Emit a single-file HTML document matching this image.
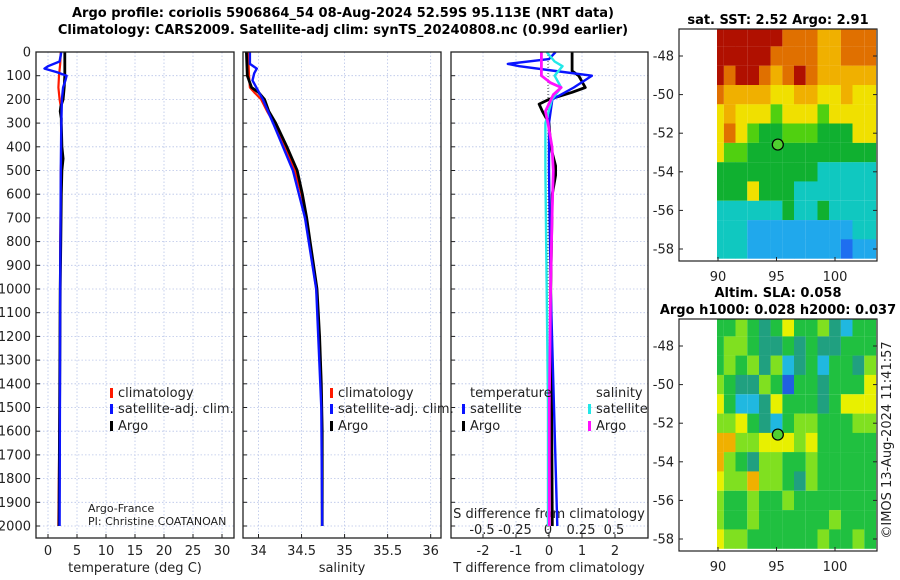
<!DOCTYPE html>
<html><head><meta charset="utf-8"><style>
html,body{margin:0;padding:0;background:#fff;}
svg{display:block;font-family:"DejaVu Sans","Liberation Sans",sans-serif;}
</style></head><body>
<svg id="fig" width="900" height="580" viewBox="0 0 900 580">
<text x="343" y="17" text-anchor="middle" font-size="13" font-weight="bold">Argo profile: coriolis 5906864_54 08-Aug-2024 52.59S 95.113E (NRT data)</text>
<text x="343" y="34" text-anchor="middle" font-size="13" font-weight="bold">Climatology: CARS2009. Satellite-adj clim: synTS_20240808.nc (0.99d earlier)</text>
<text x="778" y="24" text-anchor="middle" font-size="13" font-weight="bold">sat. SST: 2.52 Argo: 2.91</text>
<text x="778" y="297" text-anchor="middle" font-size="13" font-weight="bold">Altim. SLA: 0.058</text>
<text x="778" y="314" text-anchor="middle" font-size="13" font-weight="bold">Argo h1000: 0.028 h2000: 0.037</text>
<text transform="translate(891,440) rotate(-90)" text-anchor="middle" font-size="13" fill="#222">©IMOS 13-Aug-2024 11:41:57</text>
<g id="g"></g>
</svg>
<script>
// ---- profile data (depth in m) ----
const tempDepth = [0,50,100,150,200,230,250,280,300,400,450,500,600,800,1000,1500,2000];
const tempArgo  = [2.9,2.9,2.9,2.8,2.6,2.2,2.1,2.3,2.3,2.4,2.6,2.4,2.3,2.2,2.1,2.0,1.9];
const tempClim  = [2.2,2.1,1.9,1.8,2.0,2.2,2.3,2.3,2.3,2.3,2.3,2.2,2.2,2.1,2.1,2.0,1.8];
const tempSatD  = [0,40,60,70,85,100,120,150,200,300,500,1000,2000];
const tempSat   = [2.3,2.0,0.0,-0.6,1.5,3.2,3.0,2.6,2.4,2.3,2.2,2.1,2.0];

const salDepth = [0,100,150,170,200,250,300,400,500,600,700,800,900,1000,1200,1400,1600,2000];
const salArgo  = [33.86,33.87,33.92,34.0,34.07,34.12,34.2,34.33,34.45,34.51,34.56,34.6,34.64,34.68,34.71,34.73,34.74,34.74];
const salClim  = [33.88,33.89,33.9,33.95,34.03,34.1,34.18,34.31,34.42,34.5,34.55,34.59,34.63,34.67,34.71,34.73,34.74,34.74];
const salSatD  = [0,50,70,90,120,200,300,500,700,1000,1500,2000];
const salSat   = [33.9,33.9,33.98,33.95,33.93,34.05,34.17,34.4,34.54,34.67,34.73,34.74];

const tdSatD = [0,30,50,60,80,100,150,200,300,500,1000,1500,2000];
const tdSat  = [0.2,0.0,-1.25,-0.9,0.2,1.3,0.75,0.1,0.0,0.0,0.05,0.15,0.25];
const tdArgD = [0,80,100,150,170,200,220,250,300,400,480,520,600,1000,1500,2000];
const tdArg  = [0.7,0.7,0.9,1.1,0.7,0.0,-0.3,-0.2,0.0,0.05,0.2,0.2,0.1,0.05,0.08,0.1];
const sdSatD = [0,40,60,100,150,200,300,500,1000,1500,2000];
const sdSat  = [-0.01,0.05,0.11,0.05,0.1,0.03,-0.02,-0.02,-0.01,0.0,0.0];
const sdArgD = [0,100,130,150,180,250,300,400,500,700,1000,1500,2000];
const sdArg  = [-0.05,-0.05,0.02,0.1,0.04,-0.02,0.0,0.03,0.04,0.03,0.02,0.01,0.01];

const depthTicks = [0,100,200,300,400,500,600,700,800,900,1000,1100,1200,1300,1400,1500,1600,1700,1800,1900,2000];
const tempTicks = [0,5,10,15,20,25,30];
const salTicks = [34,34.5,35,35.5,36];
const salTickLabels = ["34","34.5","35","35.5","36"];
const tdTicks = [-2,-1,0,1,2];
const sdTicks = [-0.5,-0.25,0,0.25,0.5];
const sdTickLabels = ["-0.5","-0.25","0","0.25","0.5"];

// ---- map data ----
const sstLon = [90,91,92,93,94,95,96,97,98,99,100,101,102,103];
const sstLat = [-47,-48,-49,-50,-51,-52,-53,-54,-55,-56,-57,-58];
const sstGrid = [
[9,9,9,9,9,9,8,8,8,7,7,8,8,8],
[9,9,9,9,9,8,8,8,8,7,7,8,8,8],
[9,8,9,9,8,7,8,9,8,7,7,7,7,7],
[8,7,7,7,7,6,6,7,7,6,6,7,6,6],
[6,7,6,6,6,5,6,6,6,5,6,6,6,6],
[6,8,6,5,4,4,5,5,5,4,4,4,6,6],
[6,5,5,4,4,4,4,4,4,4,4,4,4,4],
[4,4,4,4,4,4,4,4,4,3,3,3,3,3],
[4,4,4,6,4,4,4,3,3,3,3,3,3,3],
[3,3,3,3,3,3,4,3,3,4,3,3,3,3],
[3,3,3,2,2,2,2,2,2,2,2,2,3,3],
[3,3,3,2,2,2,2,2,2,2,2,1,2,2]];
const slaGrid = [
[3,3,4,3,2,3,5,3,3,4,2,1,3,3],
[3,4,4,3,2,2,3,2,3,2,2,3,3,3],
[3,4,3,4,2,4,1,2,3,1,3,3,2,4],
[4,3,2,2,4,3,0,3,3,2,3,3,3,5],
[5,3,1,1,2,5,3,3,3,2,3,5,5,5],
[4,4,5,3,2,1,3,4,4,3,3,3,4,4],
[6,6,4,4,5,5,5,4,5,3,3,3,3,3],
[6,4,3,2,4,4,3,3,4,3,3,3,3,3],
[5,4,4,6,4,4,3,2,4,3,3,3,3,3],
[4,3,3,4,3,3,4,3,3,3,3,3,3,3],
[4,3,3,4,3,3,3,3,3,3,4,3,3,3],
[5,4,4,3,3,3,3,3,3,4,3,3,4,3]];
const floatLon = 95.113, floatLat = -52.59;
const mapLonTicks = [90,95,100];
const mapLatTicks = [-48,-50,-52,-54,-56,-58];

const NS = "http://www.w3.org/2000/svg";
const G = document.getElementById('g');
function mk(tag, attrs, parent){ const e=document.createElementNS(NS,tag); for(const k in attrs) e.setAttribute(k,attrs[k]); (parent||G).appendChild(e); return e; }
function txt(x,y,s,attrs){ const e=mk('text',Object.assign({x:x,y:y,'font-size':13,fill:'#222'},attrs||{})); e.textContent=s; return e; }

const PT=52, PB=538;
const yD = d => PT + d*0.237;
const panels = [
 {name:'temperature', x0:36, x1:234, vmin:-2.07, vmax:32.07},
 {name:'salinity', x0:243, x1:441, vmin:33.82, vmax:36.12},
 {name:'difference', x0:451, x1:648, vmin:-2.97, vmax:3.0}
];
function sx(p,v){ return p.x0 + (v-p.vmin)/(p.vmax-p.vmin)*(p.x1-p.x0); }
const sxS = v => 548 + v*132;

function grid(p, xt){
  xt.forEach(v=>{ const x=sx(p,v);
    const l=mk('line',{x1:x,x2:x,y1:PT,y2:PB,stroke:'#b8c4e8','stroke-width':0.8,'stroke-dasharray':'1.5,2'});
     
    const t=mk('line',{x1:x,x2:x,y1:PB,y2:PB-4,stroke:'#222'});
     
  });
  depthTicks.forEach(d=>{ const y=yD(d);
    const l=mk('line',{x1:p.x0,x2:p.x1,y1:y,y2:y,stroke:'#b8c4e8','stroke-width':0.8,'stroke-dasharray':'1.5,2'});
     
    const t=mk('line',{x1:p.x0,x2:p.x0+4,y1:y,y2:y,stroke:'#222'});
     
  });
}
function line(ds, vs, fx, color, w, name){
  const pts = ds.map((d,i)=>fx(vs[i]).toFixed(1)+','+yD(d).toFixed(1)).join(' ');
  const e=mk('polyline',{points:pts,fill:'none',stroke:color,'stroke-width':w,'stroke-linejoin':'round'});
   
}
function frame(p){ const r=mk('rect',{x:p.x0,y:PT,width:p.x1-p.x0,height:PB-PT,fill:'none',stroke:'#222','stroke-width':1.3});
    }

const P1=panels[0],P2=panels[1],P3=panels[2];
grid(P1,tempTicks); grid(P2,salTicks); grid(P3,tdTicks);
depthTicks.forEach(d=>{ const t=txt(31,yD(d)+4.5,String(d),{'text-anchor':'end'});
    });
tempTicks.forEach(v=>{ const t=txt(sx(P1,v),555,String(v),{'text-anchor':'middle'});
    });
salTicks.forEach((v,i)=>{ const t=txt(sx(P2,v),555,salTickLabels[i],{'text-anchor':'middle'});
    });
tdTicks.forEach(v=>{ const t=txt(sx(P3,v),555,String(v),{'text-anchor':'middle'});
    });
sdTicks.forEach((v,i)=>{ const t=txt(sxS(v),534,sdTickLabels[i],{'text-anchor':'middle'});
    });
txt(135,572,'temperature (deg C)',{'text-anchor':'middle'});
txt(342,572,'salinity',{'text-anchor':'middle'});
txt(549,572,'T difference from climatology',{'text-anchor':'middle'});
txt(549,518,'S difference from climatology',{'text-anchor':'middle'});
txt(88,512,'Argo-France',{'font-size':11});
txt(88,525,'PI: Christine COATANOAN',{'font-size':11});

mk('line',{x1:548,x2:548,y1:PT,y2:PB,stroke:'#444','stroke-width':1,'stroke-dasharray':'1,2'});

const fT=v=>sx(P1,v), fS=v=>sx(P2,v), fTD=v=>sx(P3,v);
line(tempDepth,tempClim,fT,'#ff1a00',2.2,'temp-climatology-line');
line(tempDepth,tempArgo,fT,'#000',2.8,'temp-argo-line');
line(tempSatD,tempSat,fT,'#0a14ff',2.4,'temp-satellite-line');
line(salDepth,salClim,fS,'#ff1a00',2.2,'sal-climatology-line');
line(salDepth,salArgo,fS,'#000',2.8,'sal-argo-line');
line(salSatD,salSat,fS,'#0a14ff',2.4,'sal-satellite-line');
line(tdArgD,tdArg,fTD,'#000',2.8,'tdiff-argo-line');
line(tdSatD,tdSat,fTD,'#0a14ff',2.4,'tdiff-satellite-line');
line(sdSatD,sdSat,sxS,'#22e8e8',2.4,'sdiff-satellite-line');
line(sdArgD,sdArg,sxS,'#ff10ff',2.8,'sdiff-argo-line');
frame(P1);frame(P2);frame(P3);

function leg(x,y,color,label){ const r=mk('rect',{x:x,y:y-9,width:3,height:10,fill:color});
   
  const t=txt(x+8,y,label);   }
leg(110,397,'#ff1a00','climatology'); leg(110,413,'#0a14ff','satellite-adj. clim.'); leg(110,430,'#000','Argo');
leg(330,397,'#ff1a00','climatology'); leg(330,413,'#0a14ff','satellite-adj. clim.'); leg(330,430,'#000','Argo');
txt(470,397,'temperature');
txt(596,397,'salinity');
leg(462,413,'#0a14ff','satellite'); leg(462,430,'#000','Argo');
leg(588,413,'#22e8e8','satellite'); leg(588,430,'#ff10ff','Argo');

const sstPal=['#1040e0','#1e6ef0','#20a8ec','#10c8c0','#10b030','#50d010','#f0e000','#f0b000','#e07000','#b01000'];
const slaPal=['#2060e0','#20b8e0','#20a080','#20c040','#80e020','#e8f000','#f0b000'];
function drawMap(top, grid, pal, name){
  const bx0=679,bx1=877,by0=top,by1=top+232;
  const lonX=lon=>718+(lon-90)*11.7;
  const latY=lat=>top+27+(-48-lat)*19.3;
  mk('rect',{x:bx0,y:by0,width:bx1-bx0,height:by1-by0,fill:'#fff'});
  grid.forEach((row,i)=>row.forEach((v,j)=>{
    const x=lonX(sstLon[j]-0.5), y=latY(sstLat[i]+0.5);
    const c=mk('rect',{x:Math.max(717,x).toFixed(1),y:Math.max(by0,y).toFixed(1),width:(Math.min(877,x+11.8)-Math.max(717,x)).toFixed(1),height:(Math.min(by1-2,y+19.4)-Math.max(by0,y)).toFixed(1),fill:pal[v]});
     
  }));
  const dot=mk('circle',{cx:lonX(floatLon),cy:latY(floatLat),r:5.5,fill:'#50d030',stroke:'#000','stroke-width':1.2});
   
  const f=mk('rect',{x:bx0,y:by0,width:bx1-bx0,height:by1-by0,fill:'none',stroke:'#222','stroke-width':1.2});
   
  mapLatTicks.forEach(l=>{ const y=latY(l);
    mk('line',{x1:bx0,x2:bx0+4,y1:y,y2:y,stroke:'#222'}); mk('line',{x1:bx1,x2:bx1-4,y1:y,y2:y,stroke:'#222'});
    const t=txt(bx0-5,y+4.5,String(l),{'text-anchor':'end'});   });
  mapLonTicks.forEach(l=>{ const x=lonX(l);
    mk('line',{x1:x,x2:x,y1:by1,y2:by1-4,stroke:'#222'});
    const t=txt(x,by1+20,String(l),{'text-anchor':'middle'});   });
}
drawMap(29,sstGrid,sstPal,'sst-map');
drawMap(319,slaGrid,slaPal,'sla-map');
</script>
</body></html>
